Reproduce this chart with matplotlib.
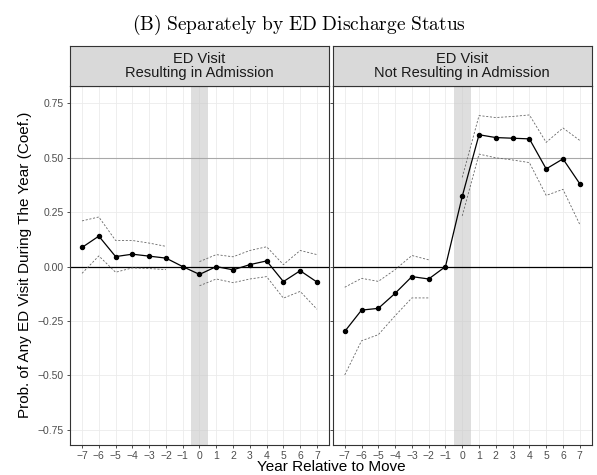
import numpy as np
import matplotlib
matplotlib.use("Agg")
import matplotlib.pyplot as plt

years = list(range(-7, 8))
panel_titles = ["ED Visit\nResulting in Admission", "ED Visit\nNot Resulting in Admission"]

adm_coef = [0.088, 0.140, 0.046, 0.057, 0.048, 0.039, 0.0, -0.036, 0.0, -0.015, 0.009, 0.026, -0.069, -0.019, -0.071]
adm_hi = [0.210, 0.228, 0.120, 0.120, 0.108, 0.093, np.nan, 0.023, 0.055, 0.045, 0.074, 0.091, 0.009, 0.074, 0.055]
adm_lo = [-0.031, 0.049, -0.026, -0.006, -0.009, -0.014, np.nan, -0.088, -0.057, -0.074, -0.057, -0.046, -0.145, -0.114, -0.196]

nadm_coef = [-0.298, -0.200, -0.192, -0.123, -0.046, -0.057, 0.0, 0.323, 0.606, 0.593, 0.590, 0.587, 0.449, 0.495, 0.381]
nadm_hi = [-0.095, -0.054, -0.068, -0.014, 0.051, 0.031, np.nan, 0.410, 0.694, 0.685, 0.690, 0.697, 0.571, 0.637, 0.580]
nadm_lo = [-0.498, -0.341, -0.313, -0.226, -0.144, -0.144, np.nan, 0.233, 0.517, 0.500, 0.490, 0.478, 0.327, 0.355, 0.194]

yticks = [-0.75, -0.5, -0.25, 0.0, 0.25, 0.5, 0.75]
ytick_labels = ["\u22120.75", "\u22120.50", "\u22120.25", "0.00", "0.25", "0.50", "0.75"]
xtick_labels = [("\u2212" + str(-y)) if y < 0 else str(y) for y in years]

plt.rcParams['font.family'] = ['Liberation Sans', 'DejaVu Sans']
plt.rcParams['mathtext.fontset'] = 'cm'

fig = plt.figure(figsize=(5.97, 4.75), dpi=100)
W, H = 597, 475
top_px, bot_px = 86, 445
strip_top = 46
panels_px = [(70.3, 328.7), (333, 591.5)]

series = [(adm_coef, adm_hi, adm_lo), (nadm_coef, nadm_hi, nadm_lo)]

for i, ((l, r), (coef, hi, lo)) in enumerate(zip(panels_px, series)):
    ax = fig.add_axes([l / W, 1 - bot_px / H, (r - l) / W, (bot_px - top_px) / H])
    ax.set_xlim(-7.7, 7.7)
    ax.set_ylim(-0.82, 0.83)
    ax.set_facecolor("white")
    for yv in yticks:
        ax.axhline(yv, color="#ebebeb", lw=0.6, zorder=0)
    for xv in years:
        ax.axvline(xv, color="#ebebeb", lw=0.6, zorder=0)
    ax.axvspan(-0.5, 0.5, color="#c8c8c8", alpha=0.6, lw=0, zorder=1)
    ax.axhline(0, color="black", lw=0.9, zorder=2)
    ax.axhline(0.5, color="#a8a8a8", lw=0.8, zorder=2)
    ax.plot(years, hi, color="#666666", lw=0.6, ls=(0, (2.5, 2)), zorder=3)
    ax.plot(years, lo, color="#666666", lw=0.6, ls=(0, (2.5, 2)), zorder=3)
    ax.plot(years, coef, color="black", lw=0.9, marker="o", ms=2.9, zorder=4)
    ax.set_xticks(years)
    ax.set_xticklabels(xtick_labels)
    ax.set_yticks(yticks)
    if i == 0:
        ax.set_yticklabels(ytick_labels)
    else:
        ax.set_yticklabels([])
        ax.tick_params(axis="y", length=0)
    ax.tick_params(axis="both", labelsize=7.5, labelcolor="#4d4d4d", color="#333333",
                   width=0.6, length=2.5, pad=2)
    for s in ax.spines.values():
        s.set_color("#333333")
        s.set_linewidth(0.8)
    # strip
    sax = fig.add_axes([l / W, 1 - top_px / H, (r - l) / W, (top_px - strip_top) / H])
    sax.set_facecolor("#d9d9d9")
    sax.set_xticks([])
    sax.set_yticks([])
    for s in sax.spines.values():
        s.set_color("#333333")
        s.set_linewidth(0.8)
    sax.text(0.5, 0.5, panel_titles[i], ha="center", va="center", fontsize=10.5,
             color="#1a1a1a", transform=sax.transAxes, linespacing=1.05)

fig.text(0.5, 1 - 25 / H, r"$\mathrm{(B)\ Separately\ by\ ED\ Discharge\ Status}$",
         ha="center", va="center", fontsize=14)
fig.text(25 / W, 1 - 265 / H, "Prob. of Any ED Visit During The Year (Coef.)",
         rotation=90, ha="center", va="center", fontsize=11)
fig.text(331 / W, 1 - 467 / H, "Year Relative to Move", ha="center", va="center", fontsize=11)

fig.savefig("out.png", dpi=100)
